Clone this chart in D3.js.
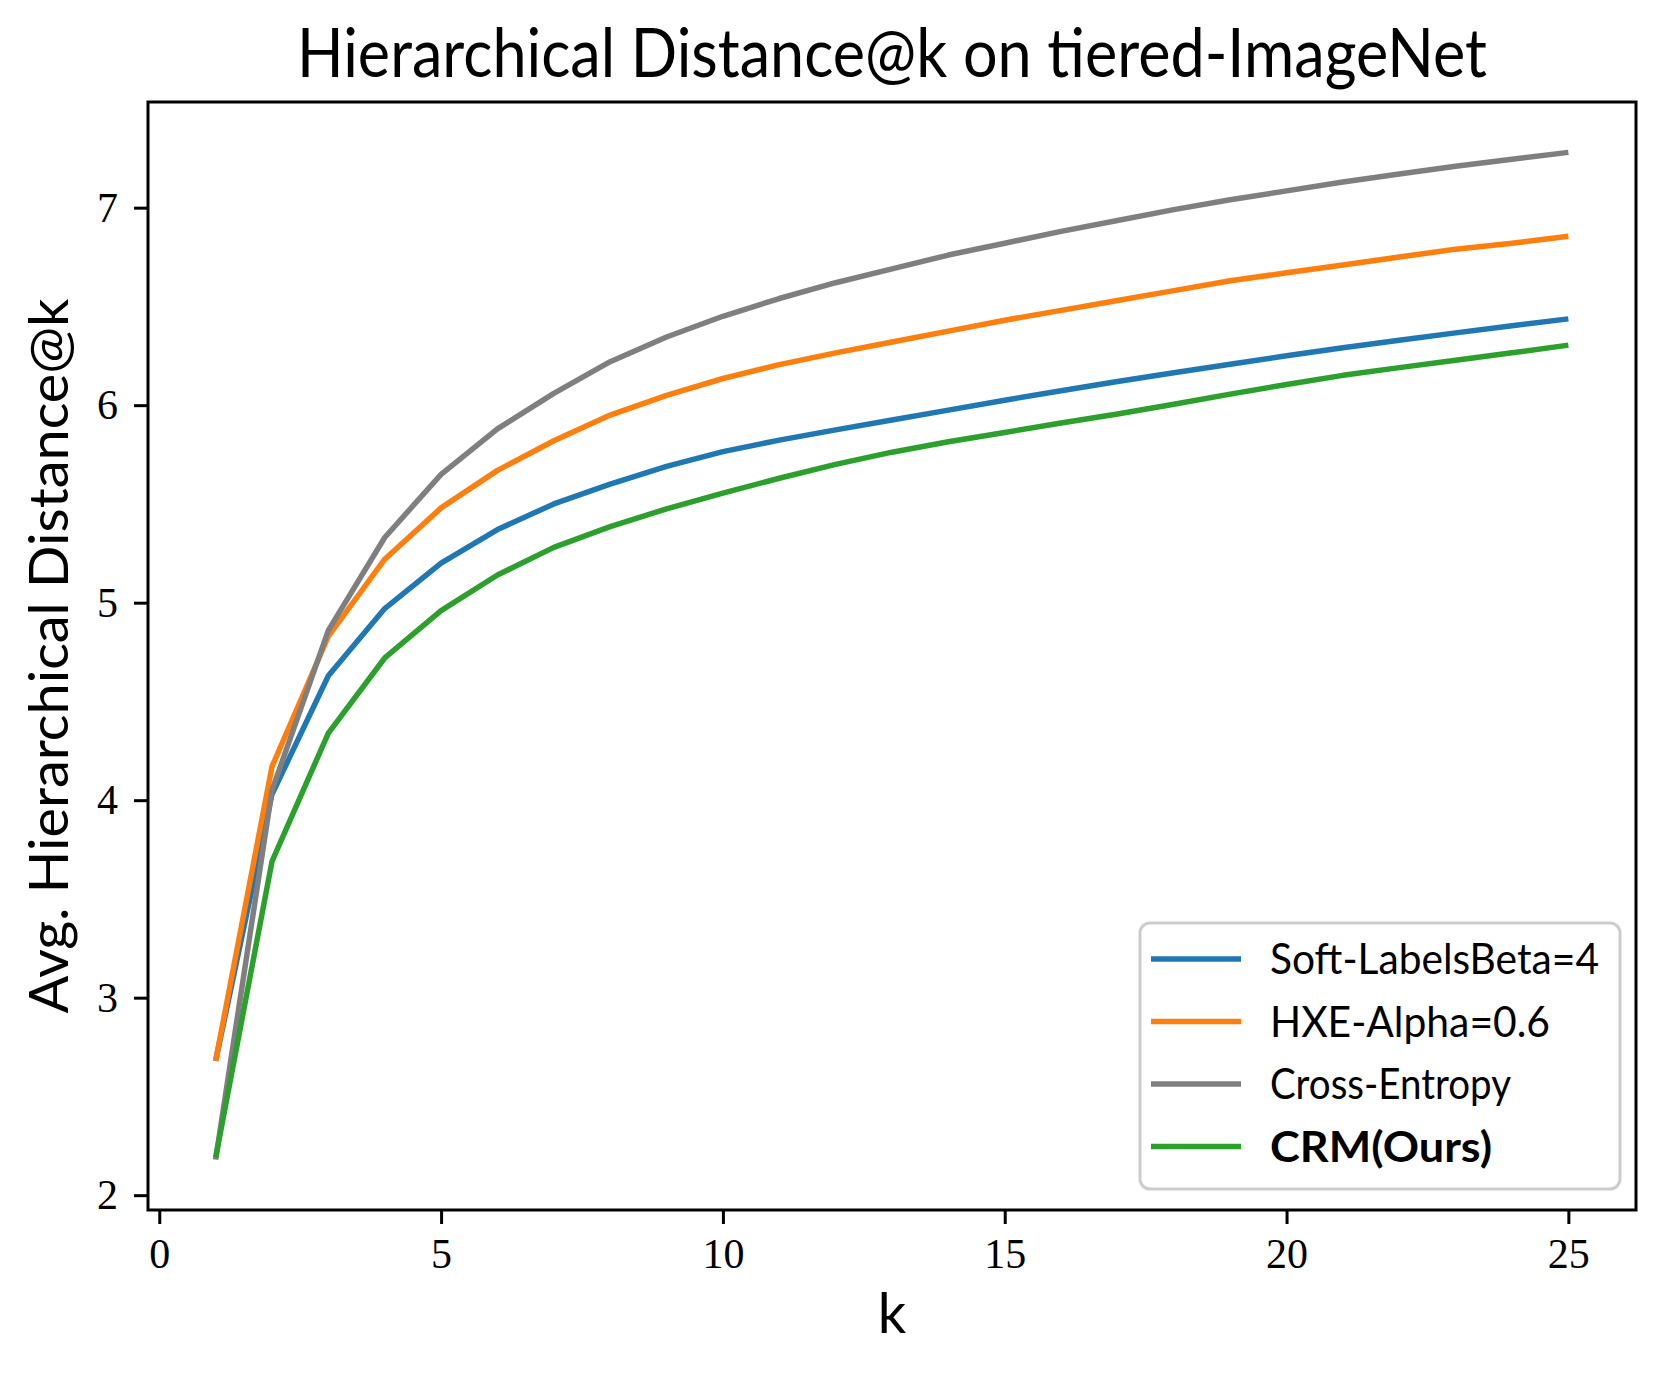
<!DOCTYPE html>
<html>
<head>
<meta charset="utf-8">
<script src="https://cdn.jsdelivr.net/npm/d3@7"></script>
<style>
  body { margin: 0; background: #fff; }
  .tick text { font-family: "Liberation Serif", "DejaVu Serif", serif; }
</style>
</head>
<body>
<div id="chart"></div>
<script>
// values
const k_values = [1,2,3,4,5,6,7,8,9,10,11,12,13,14,15,16,17,18,19,20,21,22,23,24,25];
const soft_labels = [2.68,4.03,4.63,4.97,5.20,5.37,5.50,5.60,5.69,5.765,5.823,5.875,5.925,5.975,6.025,6.073,6.12,6.164,6.207,6.25,6.291,6.329,6.366,6.402,6.437];
const hxe = [2.68,4.17,4.83,5.22,5.48,5.67,5.82,5.95,6.05,6.135,6.205,6.265,6.32,6.375,6.43,6.48,6.53,6.58,6.63,6.67,6.71,6.75,6.79,6.82,6.855];
const cross_entropy = [2.18,4.05,4.86,5.33,5.65,5.88,6.06,6.22,6.345,6.45,6.54,6.62,6.69,6.76,6.82,6.88,6.935,6.99,7.04,7.085,7.13,7.17,7.21,7.245,7.28];
const crm = [2.19,3.69,4.34,4.72,4.96,5.14,5.28,5.385,5.475,5.555,5.63,5.70,5.762,5.815,5.862,5.91,5.955,6.005,6.056,6.105,6.151,6.19,6.227,6.265,6.304];
const series_names = ["Soft-LabelsBeta=4", "HXE-Alpha=0.6", "Cross-Entropy", "CRM(Ours)"];
const series_colors = ["#1f77b4", "#ff7f0e", "#7f7f7f", "#2ca02c"];
const x_ticks = [0,5,10,15,20,25];
const y_ticks = [2,3,4,5,6,7];

const width = 1666, height = 1374;
const margin = ({top: 102, right: 30, bottom: 164, left: 148});
const sans = "Lato, 'Noto Sans', sans-serif";

const all_series = [soft_labels, hxe, cross_entropy, crm];
const dataset = all_series.map(s => s.map((v,i) => ({k: k_values[i], v: v})));

// matplotlib-like 5% padding around the data
function padded(ext){ const p = (ext[1]-ext[0])*0.05; return [ext[0]-p, ext[1]+p]; }

const x = d3.scaleLinear()
  .domain(padded(d3.extent(k_values)))
  .range([margin.left, width - margin.right]);

const y = d3.scaleLinear()
  .domain(padded([d3.min(all_series, s => d3.min(s)), d3.max(all_series, s => d3.max(s))]))
  .range([height - margin.bottom, margin.top]);

const svg = d3.select("#chart").append("svg")
  .attr("width", width)
  .attr("height", height)
  .style("display", "block");

svg.append("rect").attr("width", width).attr("height", height).attr("fill", "#fff");

const line = d3.line()
  .x(d => x(d.k))
  .y(d => y(d.v));

svg.append("g").selectAll("path")
  .data(dataset)
  .enter()
  .append("path")
  .attr("d", d => line(d))
  .attr("fill", "none")
  .attr("stroke", (d,i) => series_colors[i])
  .attr("stroke-width", 5.5)
  .attr("stroke-linejoin", "round")
  .attr("stroke-linecap", "butt");

// axes
let xAxis = g => g
  .attr("transform", `translate(0,${height - margin.bottom})`)
  .call(d3.axisBottom(x).tickValues(x_ticks).tickFormat(d => d).tickSize(14).tickPadding(14));

let yAxis = g => g
  .attr("transform", `translate(${margin.left},0)`)
  .call(d3.axisLeft(y).tickValues(y_ticks).tickFormat(d => d).tickSize(14).tickPadding(16));

svg.append("g").call(xAxis);
svg.append("g").call(yAxis);

svg.selectAll(".tick line").attr("stroke", "#000").attr("stroke-width", 3);
svg.selectAll(".tick text").attr("font-size", 42).attr("fill", "#000");
svg.selectAll(".domain").remove();

// frame
svg.append("rect")
  .attr("x", margin.left)
  .attr("y", margin.top)
  .attr("width", width - margin.right - margin.left)
  .attr("height", height - margin.bottom - margin.top)
  .attr("fill", "none")
  .attr("stroke", "#000")
  .attr("stroke-width", 3);

// title and labels (CM Sans is narrower than Lato, so squeeze to the reference width)
const cx = (margin.left + width - margin.right) / 2;
svg.append("text").attr("x", cx).attr("y", 77)
  .attr("text-anchor", "middle").attr("font-family", sans).attr("font-size", 68)
  .attr("textLength", 1190).attr("lengthAdjust", "spacingAndGlyphs")
  .text("Hierarchical Distance@k on tiered-ImageNet");

svg.append("text").attr("x", cx).attr("y", 1333)
  .attr("text-anchor", "middle").attr("font-family", sans).attr("font-size", 56)
  .text("k");

svg.append("text")
  .attr("transform", `translate(68,${(margin.top + height - margin.bottom)/2}) rotate(-90)`)
  .attr("text-anchor", "middle").attr("font-family", sans).attr("font-size", 54)
  .attr("textLength", 715).attr("lengthAdjust", "spacingAndGlyphs")
  .text("Avg. Hierarchical Distance@k");

// legend
const label_widths = [329, 280, 241, 222];
const lg = svg.append("g").attr("transform", "translate(1140,923)");
lg.append("rect")
  .attr("width", 480).attr("height", 266).attr("rx", 10)
  .attr("fill", "#fff").attr("fill-opacity", 0.8)
  .attr("stroke", "#cccccc").attr("stroke-width", 3);

const rows = lg.selectAll("g.row")
  .data(series_names)
  .enter()
  .append("g")
  .attr("transform", (d,i) => `translate(0,${36 + i*62.5})`);

rows.append("line")
  .attr("x1", 11).attr("x2", 101)
  .attr("stroke", (d,i) => series_colors[i])
  .attr("stroke-width", 5.5);

rows.append("text")
  .attr("x", 130).attr("y", 15)
  .attr("font-family", sans).attr("font-size", 42)
  .attr("font-weight", (d,i) => i == 3 ? "bold" : "normal")
  .attr("textLength", (d,i) => label_widths[i]).attr("lengthAdjust", "spacingAndGlyphs")
  .text(d => d);
</script>
</body>
</html>
